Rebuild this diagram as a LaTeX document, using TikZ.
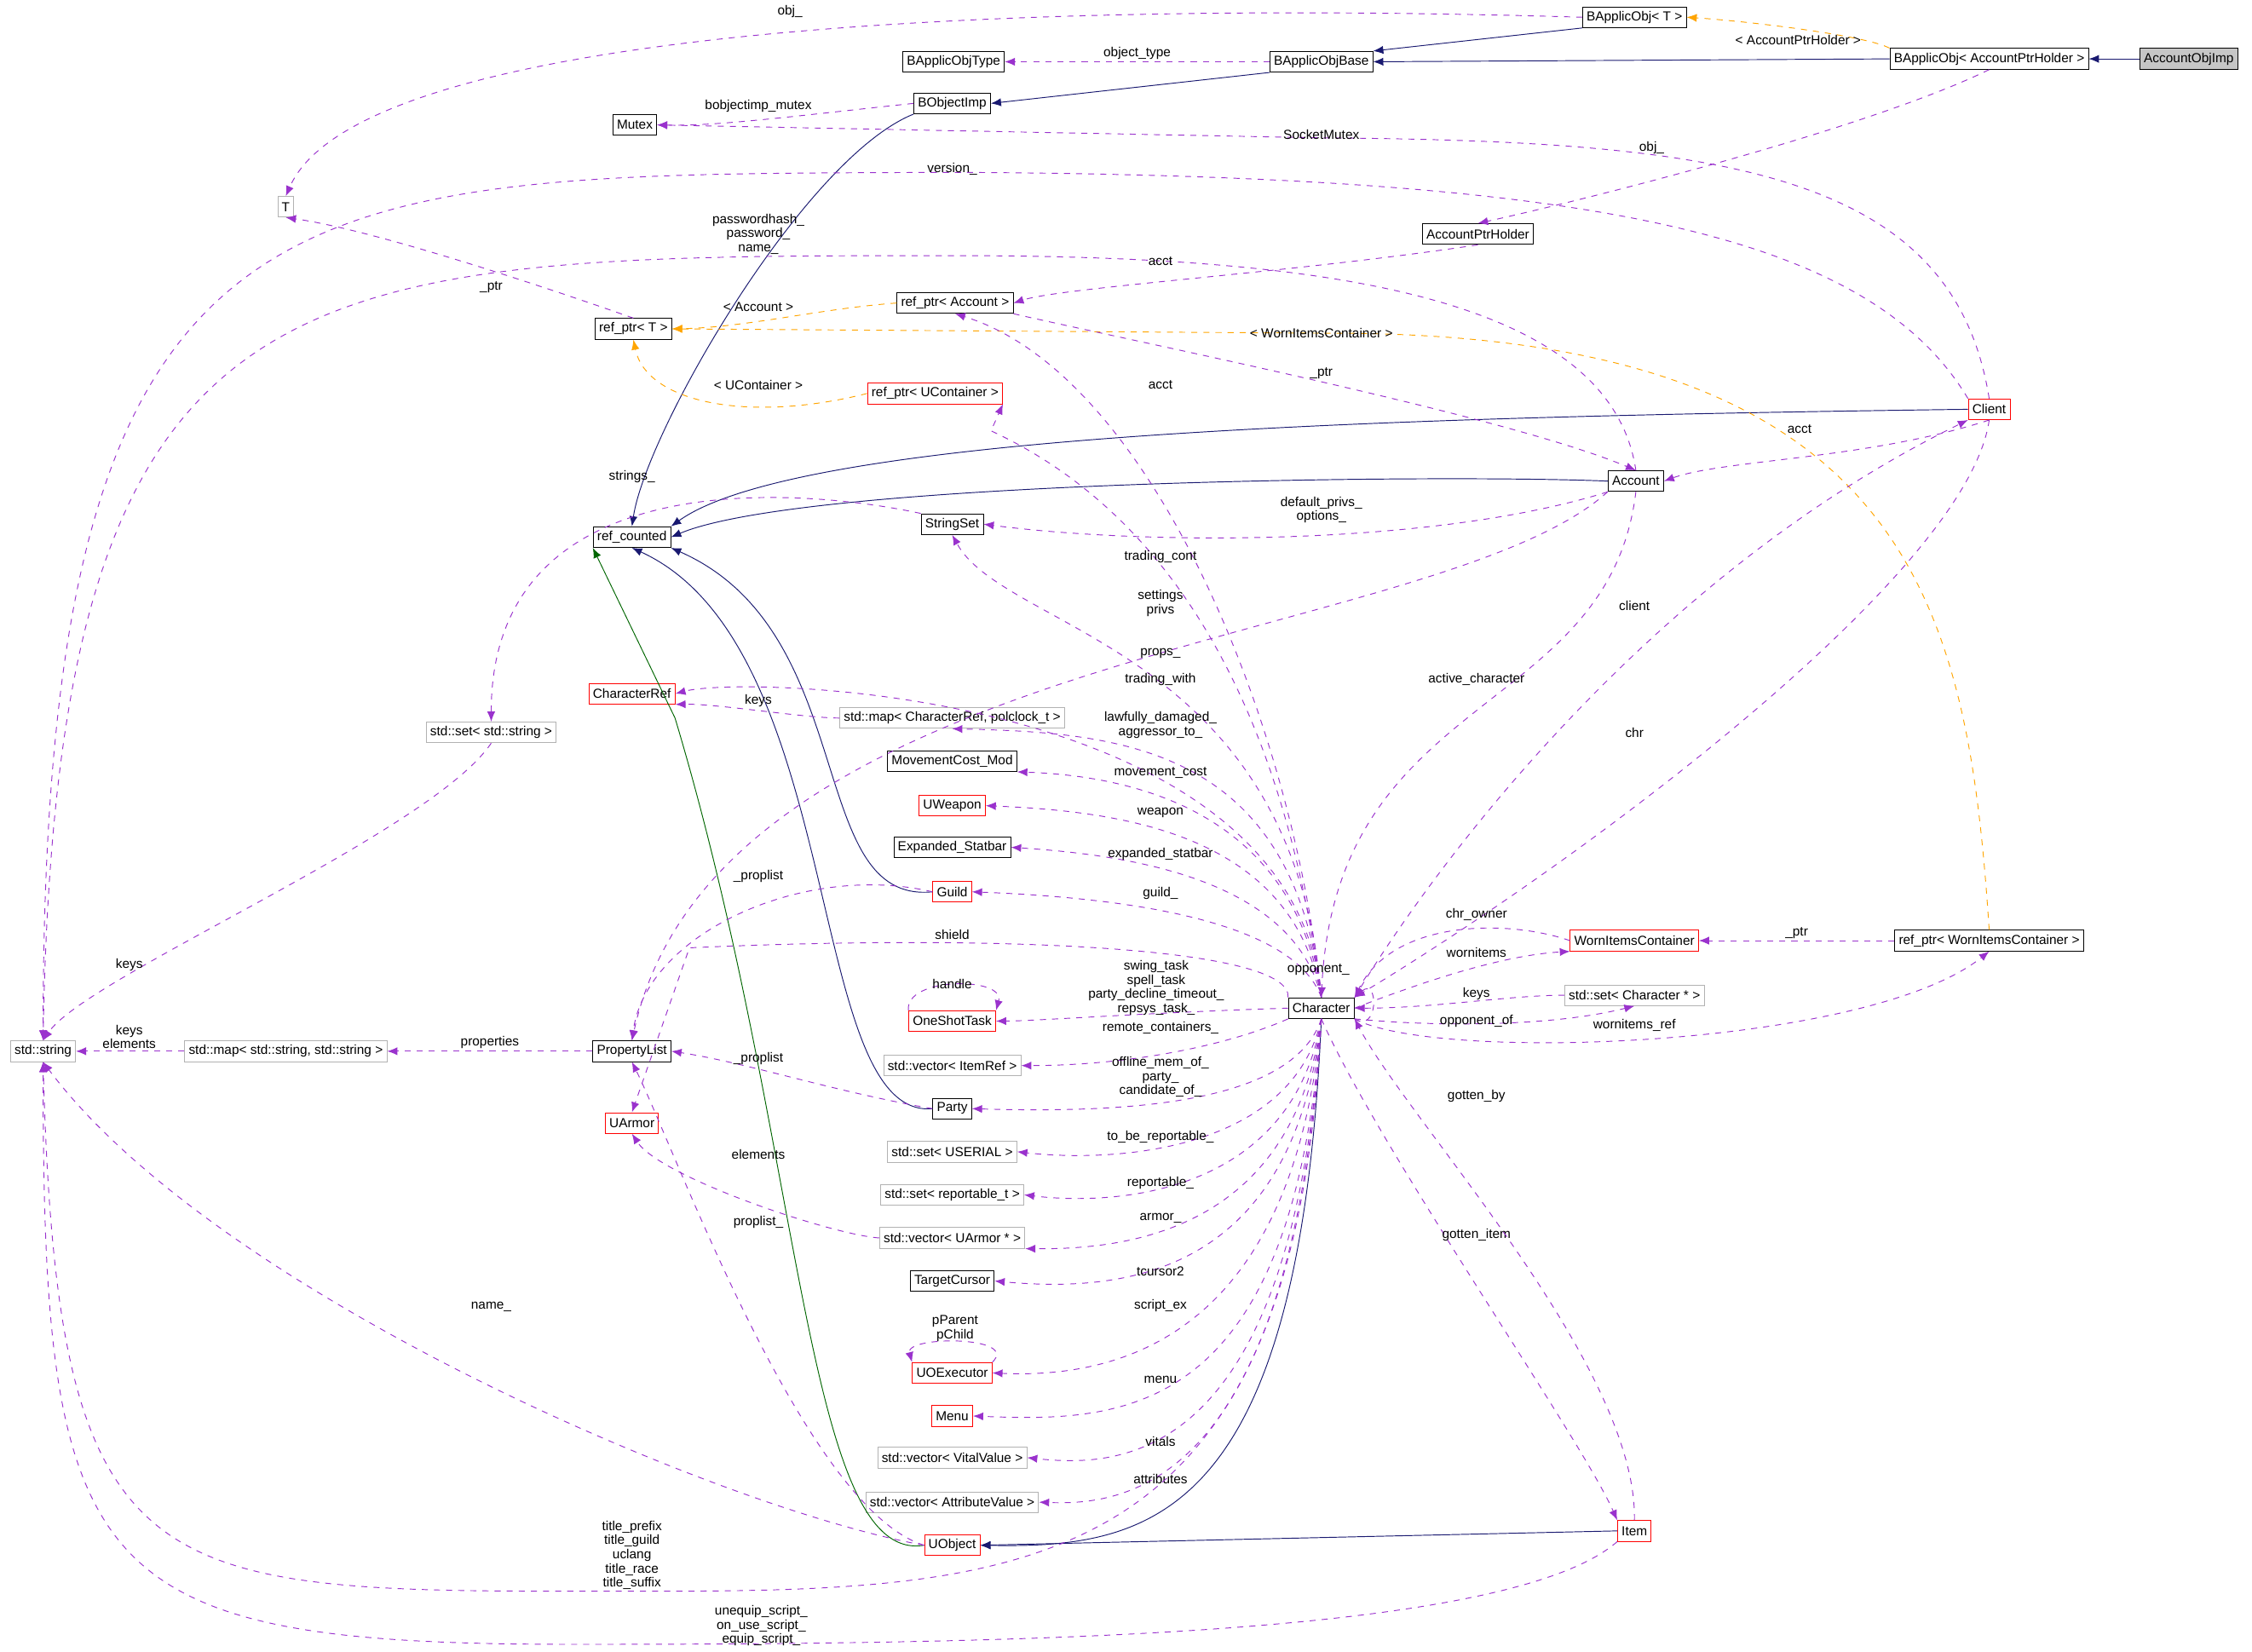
\documentclass[tikz,border=0pt]{standalone}
\usepackage{fontspec}
\setmainfont{Liberation Sans}
\usetikzlibrary{arrows.meta}
\definecolor{inhcol}{HTML}{191970}
\definecolor{usecol}{HTML}{9A32CD}
\definecolor{tplcol}{HTML}{FFA500}
\tikzset{
  box/.style={draw=black, fill=white, rectangle, inner sep=2pt, minimum height=0.36cm, font=\fontsize{6.5}{7}\selectfont},
  redbox/.style={box, draw=red},
  graybox/.style={box, draw=gray!60},
  inh/.style={inhcol, -{Latex[length=5pt,width=4pt]}},
  inhg/.style={green!40!black, -{Latex[length=5pt,width=4pt]}},
  use/.style={usecol, dashed, -{Latex[length=5pt,width=4pt]}},
  tpl/.style={tplcol, dashed, -{Latex[length=5pt,width=4pt]}},
  lbl/.style={black, font=\fontsize{6.5}{7}\selectfont, align=center, inner sep=1pt}
}
\begin{document}
\begin{tikzpicture}[x=0.025cm, y=-0.025cm]
\path[use as bounding box, fill=white] (0,0) rectangle (1568,1150);

% classes
\node[box, fill=gray!45] (AccountObjImp) at (1524,41) {AccountObjImp};
\node[box] (BApplicAPH) at (1385,41) {BApplicObj< AccountPtrHolder >};
\node[box] (BApplicT) at (1138,12) {BApplicObj< T >};
\node[box] (BApplicBase) at (920,43) {BApplicObjBase};
\node[box] (BApplicType) at (664,43) {BApplicObjType};
\node[box] (BObjectImp) at (663,72) {BObjectImp};
\node[box] (Mutex) at (442,87) {Mutex};
\node[graybox] (T) at (199,144) {T};
\node[graybox] (String) at (30,732) {std::string};
\node[box] (AccountPtrHolder) at (1029,163) {AccountPtrHolder};
\node[box] (RefAccount) at (665,211) {ref\_ptr< Account >};
\node[box] (RefT) at (441,229) {ref\_ptr< T >};
\node[redbox] (RefUContainer) at (651,274) {ref\_ptr< UContainer >};
\node[redbox] (Client) at (1385,285) {Client};
\node[box] (Account) at (1139,335) {Account};
\node[box] (RefCounted) at (440,374) {ref\_counted};
\node[box] (StringSet) at (663,365) {StringSet};
\node[redbox] (CharacterRef) at (440,483) {CharacterRef};
\node[graybox] (MapCharRef) at (663,500) {std::map< CharacterRef, polclock\_t >};
\node[graybox] (SetString) at (342,510) {std::set< std::string >};
\node[box] (MoveCost) at (663,530) {MovementCost\_Mod};
\node[redbox] (UWeapon) at (663,561) {UWeapon};
\node[box] (Statbar) at (663,590) {Expanded\_Statbar};
\node[redbox] (Guild) at (663,621) {Guild};
\node[redbox] (OneShotTask) at (663,711) {OneShotTask};
\node[redbox] (WornItems) at (1138,655) {WornItemsContainer};
\node[box] (RefWorn) at (1385,655) {ref\_ptr< WornItemsContainer >};
\node[box] (Character) at (920,702) {Character};
\node[graybox] (SetCharacter) at (1138,693) {std::set< Character * >};
\node[box] (PropertyList) at (440,732) {PropertyList};
\node[graybox] (MapString) at (199,732) {std::map< std::string, std::string >};
\node[graybox] (VecItemRef) at (663,742) {std::vector< ItemRef >};
\node[box] (Party) at (663,772) {Party};
\node[redbox] (UArmor) at (440,782) {UArmor};
\node[graybox] (SetSerial) at (663,802) {std::set< USERIAL >};
\node[graybox] (SetReport) at (663,832) {std::set< reportable\_t >};
\node[graybox] (VecArmor) at (663,862) {std::vector< UArmor * >};
\node[box] (TargetCursor) at (663,892) {TargetCursor};
\node[redbox] (UOExecutor) at (663,956) {UOExecutor};
\node[redbox] (Menu) at (663,986) {Menu};
\node[graybox] (VecVital) at (663,1015) {std::vector< VitalValue >};
\node[graybox] (VecAttr) at (663,1046) {std::vector< AttributeValue >};
\node[redbox] (UObject) at (663,1076) {UObject};
\node[redbox] (Item) at (1138,1066) {Item};

% inheritance
\draw[inh] (AccountObjImp) -- (BApplicAPH);
\draw[inh] (BApplicAPH.west) -- (BApplicBase.east);
\draw[inh] (BApplicT.south west) -- (BApplicBase.north east);
\draw[inh] (BApplicBase.south west) -- (BObjectImp.east);
\draw[inh] (BObjectImp.south west) .. controls (560,110) and (450,300) .. (RefCounted.north);
\draw[inh] (Client.west) .. controls (1000,290) and (560,300) .. (RefCounted.north east);
\draw[inh] (Account.west) .. controls (1000,330) and (560,335) .. (RefCounted.east);
\draw[inh] (Guild.west) .. controls (560,630) and (600,440) .. (RefCounted.south east);
\draw[inh] (Party.west) .. controls (560,780) and (590,450) .. (RefCounted.south);
\draw[inhg] (UObject.west) .. controls (560,1090) and (560,800) .. (470,500) -- (RefCounted.south west);
\draw[inh] (Character.south) .. controls (905,1060) and (800,1078) .. (UObject.east);
\draw[inh] (Item.west) -- (UObject.east);

% template instances
\draw[tpl] (BApplicAPH.north west) .. controls (1300,25) and (1220,15) .. (BApplicT.east) node[lbl, at={(1252,28)}] {< AccountPtrHolder >};
\draw[tpl] (RefAccount.west) .. controls (570,215) and (520,228) .. (RefT.east) node[lbl, at={(528,214)}] {< Account >};
\draw[tpl] (RefUContainer.west) .. controls (520,295) and (450,280) .. (RefT.south) node[lbl, at={(528,268)}] {< UContainer >};
\draw[tpl] (RefWorn.north) .. controls (1370,420) and (1330,230) .. (920,232) -- (RefT.east) node[lbl, at={(920,232)}] {< WornItemsContainer >};

% members
\draw[use] (BApplicT.west) .. controls (700,0) and (250,20) .. (T.north) node[lbl, at={(550,8)}] {obj\_};
\draw[use] (BApplicBase.west) -- (BApplicType.east) node[lbl, midway, above] {object\_type};
\draw[use] (BObjectImp.west) .. controls (560,80) and (500,88) .. (Mutex.east) node[lbl, at={(528,74)}] {bobjectimp\_mutex};
\draw[use] (Client.north) .. controls (1360,120) and (1200,98) .. (920,96) -- (Mutex.east) node[lbl, at={(920,94)}] {SocketMutex};
\draw[use] (BApplicAPH.south) .. controls (1300,90) and (1100,140) .. (AccountPtrHolder.north) node[lbl, at={(1150,103)}] {obj\_};
\draw[use] (Client.north west) .. controls (1300,160) and (1100,122) .. (663,120) .. controls (200,122) and (30,110) .. (String.north) node[lbl, at={(663,118)}] {version\_};
\draw[use] (Account.north) .. controls (1120,200) and (900,178) .. (663,178) .. controls (200,178) and (40,180) .. (String.north) node[lbl, at={(528,163)}] {passwordhash\_\\password\_\\name\_};
\draw[use] (RefT.north) .. controls (380,200) and (260,160) .. (T.south) node[lbl, at={(342,200)}] {\_ptr};
\draw[use] (AccountPtrHolder.south) .. controls (900,190) and (740,200) .. (RefAccount.east) node[lbl, at={(808,182)}] {acct};
\draw[use] (Character.north) .. controls (900,500) and (800,260) .. (RefAccount.south) node[lbl, at={(808,268)}] {acct};
\draw[use] (RefAccount.south east) .. controls (800,240) and (1050,290) .. (Account.north) node[lbl, at={(920,260)}] {\_ptr};
\draw[use] (Client.south) .. controls (1300,320) and (1200,320) .. (Account.east) node[lbl, at={(1253,299)}] {acct};
\draw[use] (Character.north) .. controls (895,500) and (820,360) .. (690,300) -- (RefUContainer.south east) node[lbl, at={(808,388)}] {trading\_cont};
\draw[use] (StringSet.north west) .. controls (560,340) and (342,320) .. (SetString.north) node[lbl, at={(440,332)}] {strings\_};
\draw[use] (Account.south west) .. controls (1000,380) and (800,380) .. (StringSet.east) node[lbl, at={(920,355)}] {default\_privs\_\\options\_};
\draw[use] (Character.north) .. controls (900,450) and (700,440) .. (StringSet.south) node[lbl, at={(808,420)}] {settings\\privs};
\draw[use] (Account.south west) .. controls (1000,450) and (500,450) .. (PropertyList.north) node[lbl, at={(808,455)}] {props\_};
\draw[use] (Account.south) .. controls (1120,500) and (930,480) .. (Character.north) node[lbl, at={(1028,473)}] {active\_character};
\draw[use] (Character.north east) .. controls (1000,600) and (1150,400) .. (Client.south west) node[lbl, at={(1138,422)}] {client};
\draw[use] (Client.south) .. controls (1370,400) and (1100,600) .. (Character.north east) node[lbl, at={(1138,510)}] {chr};
\draw[use] (Character.north) .. controls (900,480) and (520,470) .. (CharacterRef.east) node[lbl, at={(808,473)}] {trading\_with};
\draw[use] (MapCharRef.west) .. controls (560,500) and (500,490) .. (CharacterRef.south east) node[lbl, at={(528,488)}] {keys};
\draw[use] (Character.north) .. controls (900,520) and (780,510) .. (MapCharRef.south) node[lbl, at={(808,505)}] {lawfully\_damaged\_\\aggressor\_to\_};
\draw[use] (Character.north) .. controls (900,560) and (780,540) .. (MoveCost.south east) node[lbl, at={(808,538)}] {movement\_cost};
\draw[use] (Character.north) .. controls (900,580) and (780,565) .. (UWeapon.east) node[lbl, at={(808,566)}] {weapon};
\draw[use] (Character.north) .. controls (900,610) and (780,595) .. (Statbar.east) node[lbl, at={(808,595)}] {expanded\_statbar};
\draw[use] (Character.north) .. controls (900,640) and (780,625) .. (Guild.east) node[lbl, at={(808,622)}] {guild\_};
\draw[use] (Guild.west) .. controls (560,600) and (450,650) .. (PropertyList.north) node[lbl, at={(528,610)}] {\_proplist};
\draw[use] (Character.north west) .. controls (900,660) and (700,650) .. (480,660) -- (UArmor.north) node[lbl, at={(663,651)}] {shield};
\draw[use] (Character.west) .. controls (800,705) and (720,711) .. (OneShotTask.east) node[lbl, at={(805,688)}] {swing\_task\\spell\_task\\party\_decline\_timeout\_\\repsys\_task\_};
\draw[use] (OneShotTask.north west) .. controls (630,680) and (700,680) .. (OneShotTask.north east) node[lbl, at={(663,685)}] {handle};
\draw[use] (Character.south east) .. controls (960,720) and (960,680) .. (Character.north east) node[lbl, at={(918,675)}] {opponent\_};
\draw[use] (WornItems.west) .. controls (1050,640) and (970,640) .. (Character.north east) node[lbl, at={(1028,637)}] {chr\_owner};
\draw[use] (Character.east) .. controls (1000,680) and (1050,665) .. (WornItems.south west) node[lbl, at={(1028,663)}] {wornitems};
\draw[use] (RefWorn.west) -- (WornItems.east) node[lbl, midway, above] {\_ptr};
\draw[use] (Character.south east) .. controls (1000,740) and (1300,730) .. (RefWorn.south) node[lbl, at={(1138,714)}] {wornitems\_ref};
\draw[use] (SetCharacter.west) .. controls (1050,693) and (1000,702) .. (Character.east) node[lbl, at={(1028,692)}] {keys};
\draw[use] (Character.south east) .. controls (1000,715) and (1080,715) .. (SetCharacter.south) node[lbl, at={(1028,711)}] {opponent\_of};
\draw[use] (Character.south west) .. controls (850,730) and (780,742) .. (VecItemRef.east) node[lbl, at={(808,716)}] {remote\_containers\_};
\draw[use] (Character.south) .. controls (900,770) and (780,775) .. (Party.east) node[lbl, at={(808,750)}] {offline\_mem\_of\_\\party\_\\candidate\_of\_};
\draw[use] (Party.west) .. controls (580,760) and (520,740) .. (PropertyList.east) node[lbl, at={(528,737)}] {\_proplist};
\draw[use] (PropertyList.west) -- (MapString.east) node[lbl, midway, above] {properties};
\draw[use] (MapString.west) -- (String.east) node[lbl, at={(90,722)}] {keys\\elements};
\draw[use] (SetString.south) .. controls (300,580) and (60,680) .. (String.north) node[lbl, at={(90,672)}] {keys};
\draw[use] (Character.south) .. controls (900,800) and (780,810) .. (SetSerial.east) node[lbl, at={(808,792)}] {to\_be\_reportable\_};
\draw[use] (Character.south) .. controls (900,830) and (780,840) .. (SetReport.east) node[lbl, at={(808,824)}] {reportable\_};
\draw[use] (VecArmor.west) .. controls (580,860) and (460,820) .. (UArmor.south) node[lbl, at={(528,804)}] {elements};
\draw[use] (Character.south) .. controls (900,860) and (780,870) .. (VecArmor.south east) node[lbl, at={(808,848)}] {armor\_};
\draw[use] (Character.south) .. controls (900,890) and (780,900) .. (TargetCursor.east) node[lbl, at={(808,885)}] {tcursor2};
\draw[use] (Character.south) .. controls (900,930) and (780,960) .. (UOExecutor.east) node[lbl, at={(808,909)}] {script\_ex};
\draw[use] (UOExecutor.north east) .. controls (710,930) and (630,930) .. (UOExecutor.north west) node[lbl, at={(665,925)}] {pParent\\pChild};
\draw[use] (Character.south) .. controls (900,990) and (780,990) .. (Menu.east) node[lbl, at={(808,961)}] {menu};
\draw[use] (Character.south) .. controls (900,1020) and (780,1022) .. (VecVital.east) node[lbl, at={(808,1004)}] {vitals};
\draw[use] (Character.south) .. controls (900,1040) and (780,1048) .. (VecAttr.east) node[lbl, at={(808,1030)}] {attributes};
\draw[use] (UObject.west) .. controls (560,1050) and (470,800) .. (PropertyList.south) node[lbl, at={(528,851)}] {proplist\_};
\draw[use] (UObject.west) .. controls (500,1050) and (150,900) .. (String.south) node[lbl, at={(342,910)}] {name\_};
\draw[use] (Character.south) .. controls (900,1120) and (700,1108) .. (400,1108) .. controls (100,1108) and (40,1100) .. (String.south) node[lbl, at={(440,1083)}] {title\_prefix\\title\_guild\\uclang\\title\_race\\title\_suffix};
\draw[use] (Item.south west) .. controls (1050,1140) and (700,1145) .. (400,1145) .. controls (60,1145) and (30,1100) .. (String.south) node[lbl, at={(530,1132)}] {unequip\_script\_\\on\_use\_script\_\\equip\_script\_};
\draw[use] (Character.south) .. controls (960,800) and (1100,1000) .. (Item.north west) node[lbl, at={(1028,860)}] {gotten\_item};
\draw[use] (Item.north) .. controls (1140,950) and (980,780) .. (Character.south east) node[lbl, at={(1028,763)}] {gotten\_by};
\end{tikzpicture}
\end{document}
